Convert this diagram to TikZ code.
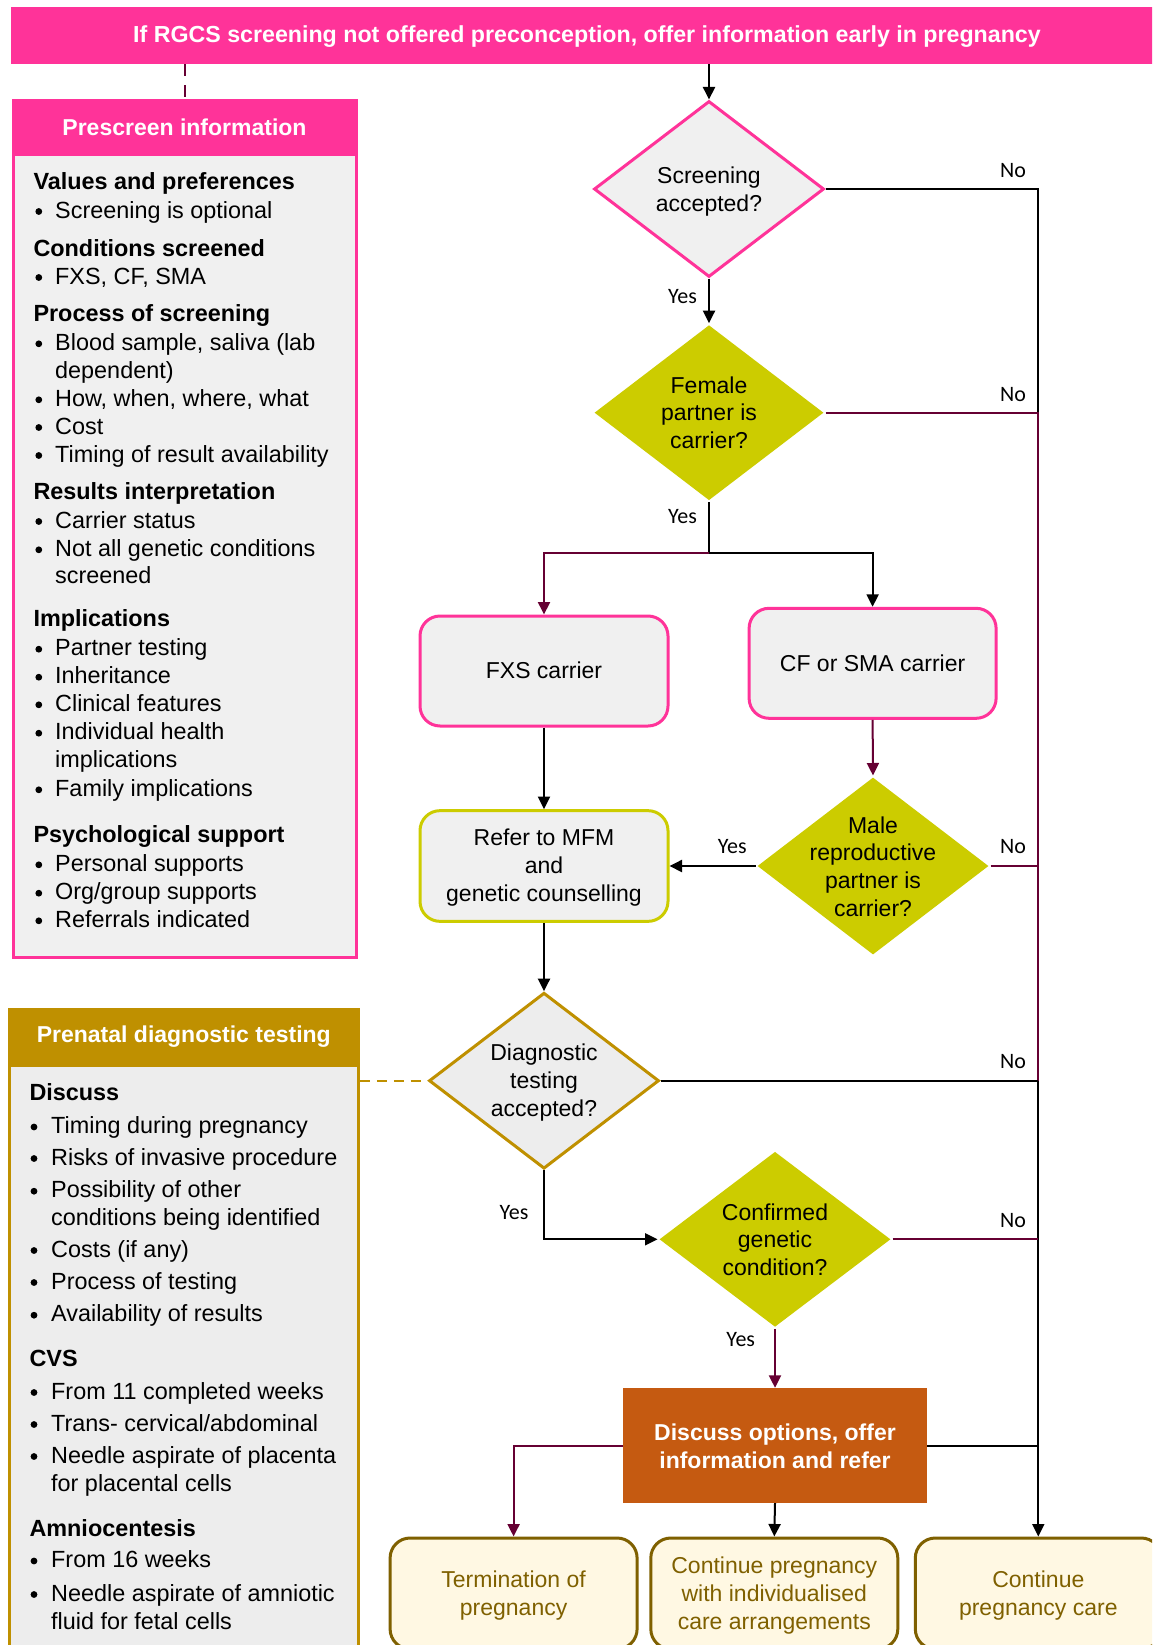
\documentclass[tikz,border=0pt]{standalone}
\usepackage{fontspec}
\setmainfont{Liberation Sans}
\newfontfamily\lblfont{Carlito}
\usetikzlibrary{arrows.meta,shapes.geometric,calc}
\definecolor{pinkc}{HTML}{FF3399}
\definecolor{grayf}{HTML}{F0F0F0}
\definecolor{grayg}{HTML}{EDEDED}
\definecolor{olivec}{HTML}{CCCC00}
\definecolor{goldc}{HTML}{BF9000}
\definecolor{maroonc}{HTML}{660033}
\definecolor{rustc}{HTML}{C55A11}
\definecolor{creamc}{HTML}{FFF8E3}
\definecolor{brownc}{HTML}{7F6000}
\tikzset{
  dtxt/.style={font=\fontsize{23pt}{27.7pt}\selectfont, align=center, inner sep=0pt},
  btxt/.style={font=\fontsize{23pt}{28pt}\selectfont, align=center, inner sep=0pt},
  conn/.style={line width=2pt, draw=black},
  mconn/.style={line width=2pt, draw=maroonc},
  arr/.style={-{Triangle[length=12.5pt,width=12pt]}},
  dia/.style={diamond, inner sep=0pt, line width=3pt},
  rbox/.style={rectangle, rounded corners=20pt, line width=3pt, align=center, inner sep=0pt,
    font=\fontsize{23pt}{28pt}\selectfont},
  yn/.style={font=\lblfont\fontsize{22pt}{26pt}\selectfont, inner sep=0pt},
  hd/.style={anchor=west, yshift=-2.3pt, font=\bfseries\fontsize{23.4pt}{28pt}\selectfont, text height=16.5pt, text depth=4.8pt, inner sep=0pt},
  it/.style={anchor=west, yshift=-2.3pt, font=\fontsize{23.4pt}{28pt}\selectfont, text height=16.5pt, text depth=4.8pt, inner sep=0pt},
  bul/.style={circle, fill=black, inner sep=0pt, minimum size=6.8pt, yshift=-1.5pt},
}
\begin{document}
\begin{tikzpicture}[x=1pt,y=-1pt]
\useasboundingbox (0,0) rectangle (1152,1645);
\clip (0,0) rectangle (1152,1645);
\fill[white] (0,0) rectangle (1152,1645);

% ---------- banner ----------
\node[rectangle, fill=pinkc, minimum width=1149pt, minimum height=57pt, inner sep=0pt] (banner) at (585.5,35.5) {};
\node[text=white, font=\bfseries\fontsize{23.2pt}{28pt}\selectfont, inner sep=0pt] (bannerT) at (587,37)
  {If RGCS screening not offered preconception, offer information early in pregnancy};

% ---------- prescreen box ----------
\node[rectangle, fill=grayf, draw=pinkc, line width=3pt, minimum width=343pt, minimum height=856pt, inner sep=0pt] (pre) at (184.5,529) {};
\node[rectangle, fill=pinkc, minimum width=343pt, minimum height=54.7pt, inner sep=0pt] (prehead) at (184.5,128.4) {};
\node[text=white, font=\bfseries\fontsize{23pt}{28pt}\selectfont, inner sep=0pt] (pretitle) at (184.5,127.5) {Prescreen information};

\foreach \y/\t [count=\i] in {181.7/{Values and preferences}, 248.3/{Conditions screened}, 313.3/{Process of screening},
  491.7/{Results interpretation}, 618.3/{Implications}, 834/{Psychological support}}
  {\node[hd] (ph\i) at (33.3,\y) {\t};}
\foreach \y/\t [count=\i] in {210/{Screening is optional}, 276/{FXS, CF, SMA}, 342.3/{Blood sample, saliva (lab},
  398.3/{How, when, where, what}, 426/{Cost}, 454/{Timing of result availability}, 520/{Carrier status},
  548.3/{Not all genetic conditions}, 647.7/{Partner testing}, 675.7/{Inheritance}, 703.3/{Clinical features},
  731.7/{Individual health}, 788.3/{Family implications}, 863.3/{Personal supports}, 891.7/{Org/group supports},
  919.3/{Referrals indicated}}
  {\node[bul] (pb\i) at (38.8,\y) {}; \node[it] (pt\i) at (55,\y) {\t};}
\foreach \y/\t [count=\i] in {370/{dependent)}, 575/{screened}, 759.3/{implications}}
  {\node[it] (pc\i) at (55,\y) {\t};}

% ---------- prenatal box ----------
\node[rectangle, fill=grayg, draw=goldc, line width=3pt, minimum width=349pt, minimum height=656pt, inner sep=0pt] (pren) at (183.8,1337) {};
\node[rectangle, fill=goldc, minimum width=349pt, minimum height=58pt, inner sep=0pt] (prenhead) at (183.8,1038) {};
\node[text=white, font=\bfseries\fontsize{23pt}{28pt}\selectfont, inner sep=0pt] (prentitle) at (183.8,1036.6) {Prenatal diagnostic testing};

\foreach \y/\t [count=\i] in {1092.3/{Discuss}, 1358.5/{CVS}, 1528/{Amniocentesis}}
  {\node[hd] (qh\i) at (29.3,\y) {\t};}
\foreach \y/\t [count=\i] in {1125.5/{Timing during pregnancy}, 1157/{Risks of invasive procedure},
  1189.7/{Possibility of other}, 1249/{Costs (if any)}, 1281/{Process of testing}, 1313.7/{Availability of results},
  1391/{From 11 completed weeks}, 1423/{Trans- cervical/abdominal}, 1455/{Needle aspirate of placenta},
  1559.5/{From 16 weeks}, 1593/{Needle aspirate of amniotic}}
  {\node[bul] (qb\i) at (34,\y) {}; \node[it] (qt\i) at (51,\y) {\t};}
\foreach \y/\t [count=\i] in {1217.5/{conditions being identified}, 1483/{for placental cells}, 1621/{fluid for fetal cells}}
  {\node[it] (qc\i) at (51,\y) {\t};}

% ---------- diamonds ----------
\node[dia, fill=grayf, draw=pinkc, minimum width=230pt, minimum height=176pt] (scr) at (709,189) {};
\node[dtxt] (scrT) at (709,191.5) {Screening\\accepted?};
\node[dia, fill=olivec, minimum width=230pt, minimum height=176pt] (fem) at (709,412.7) {};
\node[dtxt] (femT) at (709,412.7) {Female\\partner is\\carrier?};
\node[dia, fill=olivec, minimum width=232pt, minimum height=178pt] (male) at (873,866) {};
\node[dtxt] (maleT) at (873,866.5) {Male\\reproductive\\partner is\\carrier?};
\node[dia, fill=grayg, draw=goldc, minimum width=230pt, minimum height=176pt] (diag) at (544,1080.7) {};
\node[dtxt] (diagT) at (544,1082.7) {Diagnostic\\testing\\accepted?};
\node[dia, fill=olivec, minimum width=232pt, minimum height=176pt] (conf) at (775,1239.3) {};
\node[dtxt] (confT) at (775,1239.6) {Confirmed\\genetic\\condition?};

% ---------- boxes ----------
\node[rbox, fill=grayf, draw=pinkc, minimum width=248pt, minimum height=110pt] (fxs) at (544,671) {};
\node[btxt] (fxsT) at (544,670) {FXS carrier};
\node[rbox, fill=grayf, draw=pinkc, minimum width=247pt, minimum height=110pt] (cf) at (872.6,663.3) {};
\node[btxt] (cfT) at (872.6,663) {CF or SMA carrier};
\node[rbox, fill=grayf, draw=olivec, minimum width=248pt, minimum height=110.7pt] (refer) at (544,866) {};
\node[btxt] (referT) at (544,868) {Refer to MFM\\and\\genetic counselling};
\node[rectangle, fill=rustc, minimum width=304pt, minimum height=115pt, inner sep=0pt] (disc) at (775,1445.5) {};
\node[align=center, inner sep=0pt, text=white, font=\bfseries\fontsize{23pt}{28pt}\selectfont] (discT) at (775,1446) {Discuss options, offer\\information and refer};
\node[rbox, fill=creamc, draw=brownc, minimum width=247pt, minimum height=111pt] (term) at (513.6,1593.5) {};
\node[btxt, text=brownc] (termT) at (513.6,1595.5) {Termination of\\pregnancy};
\node[rbox, fill=creamc, draw=brownc, minimum width=247pt, minimum height=111pt] (mid) at (774.3,1593.5) {};
\node[btxt, text=brownc] (midT) at (774.3,1595.5) {Continue pregnancy\\with individualised\\care arrangements};
\node[rbox, fill=creamc, draw=brownc, minimum width=246pt, minimum height=111pt] (cont) at (1038.3,1593.5) {};
\node[btxt, text=brownc] (contT) at (1038.3,1595.5) {Continue\\pregnancy care};

% ---------- connectors ----------
\draw[conn,arr] (banner.south -| scr.north) -- (scr.north);
\draw[mconn, dash pattern=on 12pt off 9pt] (banner.south -| prehead.north) -- (prehead.north);
\draw[conn,arr] (scr.south) -- (fem.north);
\draw[conn,arr] (scr.east) -| (cont.north);
\draw[mconn] (fem.east) -| (diag.east -| cont.north);
\draw[mconn] (male.east) -- (male.east -| cont.north);
\draw[conn] (diag.east) -- (diag.east -| cont.north);
\draw[mconn] (conf.east) -- (conf.east -| cont.north);
\draw[conn] (disc.east) -- (disc.east -| cont.north);

\coordinate (split) at (709,552.7);
\draw[conn] (fem.south) -- (split);
\draw[mconn,arr] (split) -| (fxs.north);
\draw[conn,arr] (split) -| (cf.north);
\draw[mconn,arr] (cf.south) -- (male.north);
\draw[conn,arr] (male.west) -- (refer.east);
\draw[conn,arr] (fxs.south) -- (refer.north);
\draw[conn,arr] (refer.south) -- (diag.north);
\draw[goldc, line width=2pt, dash pattern=on 10pt off 7pt] (pren.east |- diag.west) -- (diag.west);
\draw[conn,arr] (diag.south) |- (conf.west);
\draw[mconn,arr] (conf.south) -- (disc.north);
\draw[mconn,arr] (disc.west) -| (term.north);
\draw[conn,arr] (disc.south) -- (mid.north);

% ---------- labels ----------
\node[yn] (n1) at (1013,171) {No};
\node[yn] (n2) at (1013,394.5) {No};
\node[yn] (n3) at (1013,846.7) {No};
\node[yn] (n4) at (1013,1062) {No};
\node[yn] (n5) at (1013,1220.5) {No};
\node[yn] (y1) at (682.5,297) {Yes};
\node[yn] (y2) at (682.5,517) {Yes};
\node[yn] (y3) at (732.3,846.7) {Yes};
\node[yn] (y4) at (514,1213) {Yes};
\node[yn] (y5) at (740.7,1340) {Yes};
\end{tikzpicture}
\end{document}
